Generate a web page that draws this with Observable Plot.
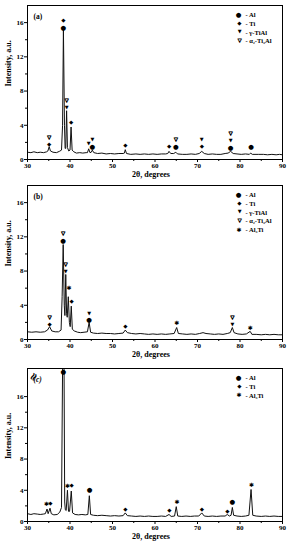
<!DOCTYPE html>
<html><head><meta charset="utf-8">
<script src="https://cdn.jsdelivr.net/npm/d3@7"></script>
<script src="https://cdn.jsdelivr.net/npm/@observablehq/plot@0.6"></script>
<style>
body{margin:0;background:#fff;width:290px;height:550px;overflow:hidden}
#chart{width:290px;height:550px}
svg{display:block}
</style></head><body><div id="chart"></div>
<script>
// ---- tick labels ----
const xTicks = [30, 40, 50, 60, 70, 80, 90];
const xMinor = [35, 45, 55, 65, 75, 85];
const yTicks = [0, 4, 8, 12, 16];
const yMinor = [2, 6, 10, 14];
const xTitle = "2θ, degrees";
const yTitle = "Intensity, a.u.";

// ---- phases ----
const phaseNames = ["Al", "Ti", "γ-TiAl", "α₂-Ti₃Al", "Al₃Ti"];
const phaseGlyphs = ["●", "◆", "▼", "▽", "✱"];
const phaseSizes = [6.5, 5.5, 5, 5, 6];

// ---- panel (a) ----
const aTheta = [30,30.8,31.5,32.3,33,33.8,34.5,34.8,35.1,35.4,36,36.8,37.5,38.0,38.25,38.45,38.7,38.85,39.0,39.2,39.4,39.7,40.0,40.25,40.5,40.9,41.5,42.3,43,43.8,44.1,44.4,44.7,45.0,45.25,45.6,46.5,47.5,48.5,49.5,50.5,51.5,52.5,52.8,53.0,53.3,54.3,55.5,56.5,57.5,58.5,59.5,60.5,61.5,62.5,63.0,63.3,63.7,64.4,64.9,65.3,66.5,67.5,68.5,69.5,70.4,71.0,71.6,72.5,73.5,74.5,75.5,76.5,77.2,77.8,78.4,79.3,80.3,81.3,82.2,82.5,82.9,84.3,85.5,86.5,87.5,88.5,89.3,90];
const aInt =   [0.85,0.8,0.9,0.8,0.85,0.8,0.9,1.0,1.5,1.0,0.85,0.8,0.95,1.1,4,15.3,4,1.3,1.3,5.7,1.4,1.0,1.1,3.8,1.1,0.9,0.75,0.8,0.75,0.8,0.8,1.25,0.8,0.85,1.1,0.8,0.7,0.75,0.65,0.7,0.65,0.7,0.7,0.75,1.15,0.7,0.6,0.65,0.6,0.65,0.6,0.65,0.6,0.65,0.65,0.7,0.95,0.7,0.7,0.85,0.65,0.6,0.6,0.65,0.6,0.7,0.95,0.7,0.6,0.65,0.6,0.6,0.7,0.75,0.95,0.7,0.65,0.6,0.65,0.6,0.75,0.6,0.6,0.6,0.55,0.6,0.55,0.6,0.55];
const aMarkTheta = [35.1,35.1,38.45,38.45,39.2,39.2,40.25,44.4,45.25,45.25,53.0,63.3,64.9,64.9,71.0,71.0,77.8,77.8,77.8,82.6];
const aMarkInt =   [1.8,2.6,15.4,16.3,6.1,6.9,4.3,1.9,1.5,2.3,1.7,1.6,1.5,2.4,1.5,2.3,1.4,2.2,3.0,1.5];
const aMarkPhase = ["Ti","α₂-Ti₃Al","Al","Ti","γ-TiAl","α₂-Ti₃Al","Ti","γ-TiAl","Al","γ-TiAl","Ti","Ti","Al","α₂-Ti₃Al","Ti","γ-TiAl","Al","γ-TiAl","α₂-Ti₃Al","Al"];
const aLegend = ["Al", "Ti", "γ-TiAl", "α₂-Ti₃Al"];

// ---- panel (b) ----
const bTheta = [30,31,32,33,34,34.7,35.2,35.7,36.5,37.3,37.9,38.15,38.4,38.65,38.8,39.0,39.2,39.35,39.6,39.85,40.05,40.3,40.55,41,41.8,42.5,43.3,44.1,44.5,44.85,45.5,46.5,47.5,48.5,49.5,50.5,51.5,52.5,53.0,53.5,54.5,55.5,56.5,57.5,58.5,59.5,60.5,61.5,62.5,63.5,64.5,65.1,65.5,66.5,67.5,68.5,69.5,70.5,71.3,72,73,74,75,76,77,77.7,78.2,78.6,79.5,80.5,81.5,82.4,82.8,83.8,85,86,87,88,89,90];
const bInt =   [0.9,0.85,0.9,0.85,0.9,1.1,1.5,1.0,0.9,0.9,1.1,5,11.1,4,2.8,7.6,3.0,2.6,5.0,2.0,1.5,3.9,1.2,1.0,0.85,0.8,0.85,0.9,2.0,0.85,0.75,0.7,0.75,0.7,0.7,0.65,0.7,0.75,1.1,0.8,0.7,0.65,0.7,0.65,0.6,0.65,0.6,0.65,0.6,0.65,0.7,1.4,0.7,0.65,0.6,0.65,0.6,0.7,0.8,0.7,0.65,0.6,0.65,0.6,0.7,0.8,1.4,0.8,0.65,0.6,0.65,0.95,0.6,0.6,0.55,0.6,0.55,0.6,0.55,0.55];
const bMarkTheta = [35.2,35.2,38.4,38.4,39.0,39.0,39.75,40.35,44.5,44.5,53.0,65.1,78.2,78.2,82.4];
const bMarkInt =   [1.8,2.6,11.5,12.4,8.0,8.8,6.0,4.5,2.3,3.1,1.6,1.9,1.8,2.6,1.3];
const bMarkPhase = ["Ti","α₂-Ti₃Al","Al","α₂-Ti₃Al","γ-TiAl","α₂-Ti₃Al","Al₃Ti","Ti","Al","γ-TiAl","Ti","Al₃Ti","γ-TiAl","α₂-Ti₃Al","Al₃Ti"];
const bLegend = ["Al", "Ti", "γ-TiAl", "α₂-Ti₃Al", "Al₃Ti"];

// ---- panel (c) ----
const cTheta = [30,30.8,31.5,32.3,33,33.7,34.2,34.6,34.85,35.3,35.6,36.2,37,37.6,38.0,38.25,38.6,38.75,38.9,39.1,39.4,39.65,39.9,40.3,40.6,41.2,42,42.8,43.6,44.2,44.55,44.85,45.5,46.5,47.5,48.5,49.5,50.5,51.5,52.5,53.0,53.5,54.5,55.5,56.5,57.5,58.5,59.5,60.5,61.5,62.5,63.3,63.8,64.6,65.0,65.35,66.3,67.3,68.3,69.3,70.3,71.0,71.6,72.5,73.5,74.5,75.5,76.5,77.0,77.5,77.9,78.2,78.5,79.3,80.3,81.3,82.1,82.6,83.0,83.8,85,86,87,88,89,90];
const cInt =   [1.0,0.9,1.0,0.95,0.9,0.95,1.0,1.6,1.0,1.7,1.0,0.85,0.9,1.2,1.8,19.6,19.6,2.5,1.5,1.4,4.0,1.3,1.3,3.9,1.1,0.9,0.85,0.9,0.85,0.9,3.3,0.9,0.8,0.75,0.8,0.75,0.7,0.75,0.7,0.75,1.1,0.75,0.7,0.65,0.7,0.65,0.7,0.65,0.65,0.7,0.65,0.9,0.65,0.7,1.9,0.7,0.65,0.7,0.65,0.7,0.7,1.1,0.7,0.65,0.7,0.65,0.7,0.7,0.9,0.7,0.8,1.8,0.8,0.7,0.65,0.7,0.8,4.1,0.8,0.7,0.65,0.7,0.65,0.7,0.65,0.65];
const cMarkTheta = [34.5,35.4,38.45,39.4,40.35,44.6,53.0,63.4,65.2,71.0,77.0,78.2,82.7];
const cMarkInt =   [2.2,2.4,19.1,4.6,4.6,4.0,1.6,1.4,2.5,1.6,1.3,2.5,4.7];
const cMarkPhase = ["Al₃Ti","Ti","Al","Al₃Ti","Ti","Al","Ti","Ti","Al₃Ti","Ti","Ti","Al","Al₃Ti"];
const cLegend = ["Al", "Ti", "Al₃Ti"];

const glyphOf = p => phaseGlyphs[phaseNames.indexOf(p)];
const sizeOf = p => phaseSizes[phaseNames.indexOf(p)];
const hollow = p => p === "α₂-Ti₃Al";

function panel(o) {
  const trace = o.theta.map((t, i) => ({t, v: o.intensity[i]}));
  const pts = o.mTheta.map((t, i) => ({t, v: o.mInt[i], p: o.mPhase[i]}));
  const marks = [
    Plot.line(trace, {x: "t", y: "v", stroke: "#111", strokeWidth: 1, clip: true}),
  ];
  for (const p of phaseNames) {
    const sub = pts.filter(d => d.p === p);
    if (sub.length) marks.push(Plot.text(sub, {x: "t", y: "v", text: () => glyphOf(p), fontSize: sizeOf(p), fontFamily: "DejaVu Sans", fill: "black", stroke: hollow(p) ? "black" : "none", strokeWidth: 0.6}));
  }
  o.legend.forEach((p, i) => {
    marks.push(Plot.text([glyphOf(p)], {frameAnchor: "top-right", dx: -41, dy: 7 + i * 8.7, fontSize: sizeOf(p), fontFamily: "DejaVu Sans", stroke: hollow(p) ? "black" : "none", strokeWidth: 0.6}));
    marks.push(Plot.text(["- " + p], {frameAnchor: "top-right", dx: -37, dy: 7 + i * 8.7, textAnchor: "start", fontSize: 6.5}));
  });
  marks.push(
    Plot.frame({stroke: "black", strokeWidth: 1}),
    Plot.axisX(xTicks, {tickSize: 3, tickPadding: 1, label: null}),
    Plot.axisX(xMinor, {tickSize: 2, tickFormat: () => "", label: null}),
    Plot.axisY(yTicks, {tickSize: 3, tickPadding: 1, label: null}),
    Plot.axisY(yMinor, {tickSize: 2, tickFormat: () => "", label: null}),
    Plot.text([xTitle], {frameAnchor: "bottom", dx: -4, dy: 17, fontSize: 8}),
    Plot.text([yTitle], {frameAnchor: "left", rotate: -90, dx: -19, dy: o.yTitleDy, fontSize: 8}),
    Plot.text([o.tag], {frameAnchor: "top-left", dx: 6, dy: 8, textAnchor: "start", fontSize: 7.5, fontStyle: o.italic ? "italic" : "normal"})
  );
  if (o.broken) marks.push(Plot.text(["≈"], {frameAnchor: "top-left", dy: 10, rotate: -60, fontSize: 11, fontFamily: "DejaVu Sans"}));
  return Plot.plot({
    width: 290, height: o.height,
    marginLeft: 27, marginRight: 8, marginTop: o.marginTop, marginBottom: o.marginBottom,
    x: {domain: [30, 90], label: null},
    y: {domain: [0, o.yMax], label: null},
    style: {fontFamily: "Liberation Serif", fontWeight: "bold", fontSize: "7px", background: "white", color: "black", overflow: "visible"},
    marks
  });
}

const root = document.getElementById("chart");
root.append(
  panel({theta: aTheta, intensity: aInt, mTheta: aMarkTheta, mInt: aMarkInt, mPhase: aMarkPhase, legend: aLegend, tag: "(a)", yMax: 18, height: 180, marginTop: 5, marginBottom: 21, yTitleDy: 4}),
  panel({theta: bTheta, intensity: bInt, mTheta: bMarkTheta, mInt: bMarkInt, mPhase: bMarkPhase, legend: bLegend, tag: "(b)", yMax: 18, height: 183, marginTop: 5, marginBottom: 24, yTitleDy: 4}),
  panel({theta: cTheta, intensity: cInt, mTheta: cMarkTheta, mInt: cMarkInt, mPhase: cMarkPhase, legend: cLegend, tag: "(c)", italic: true, broken: true, yMax: 19.6, height: 187, marginTop: 5, marginBottom: 29, yTitleDy: 14})
);
</script></body></html>
